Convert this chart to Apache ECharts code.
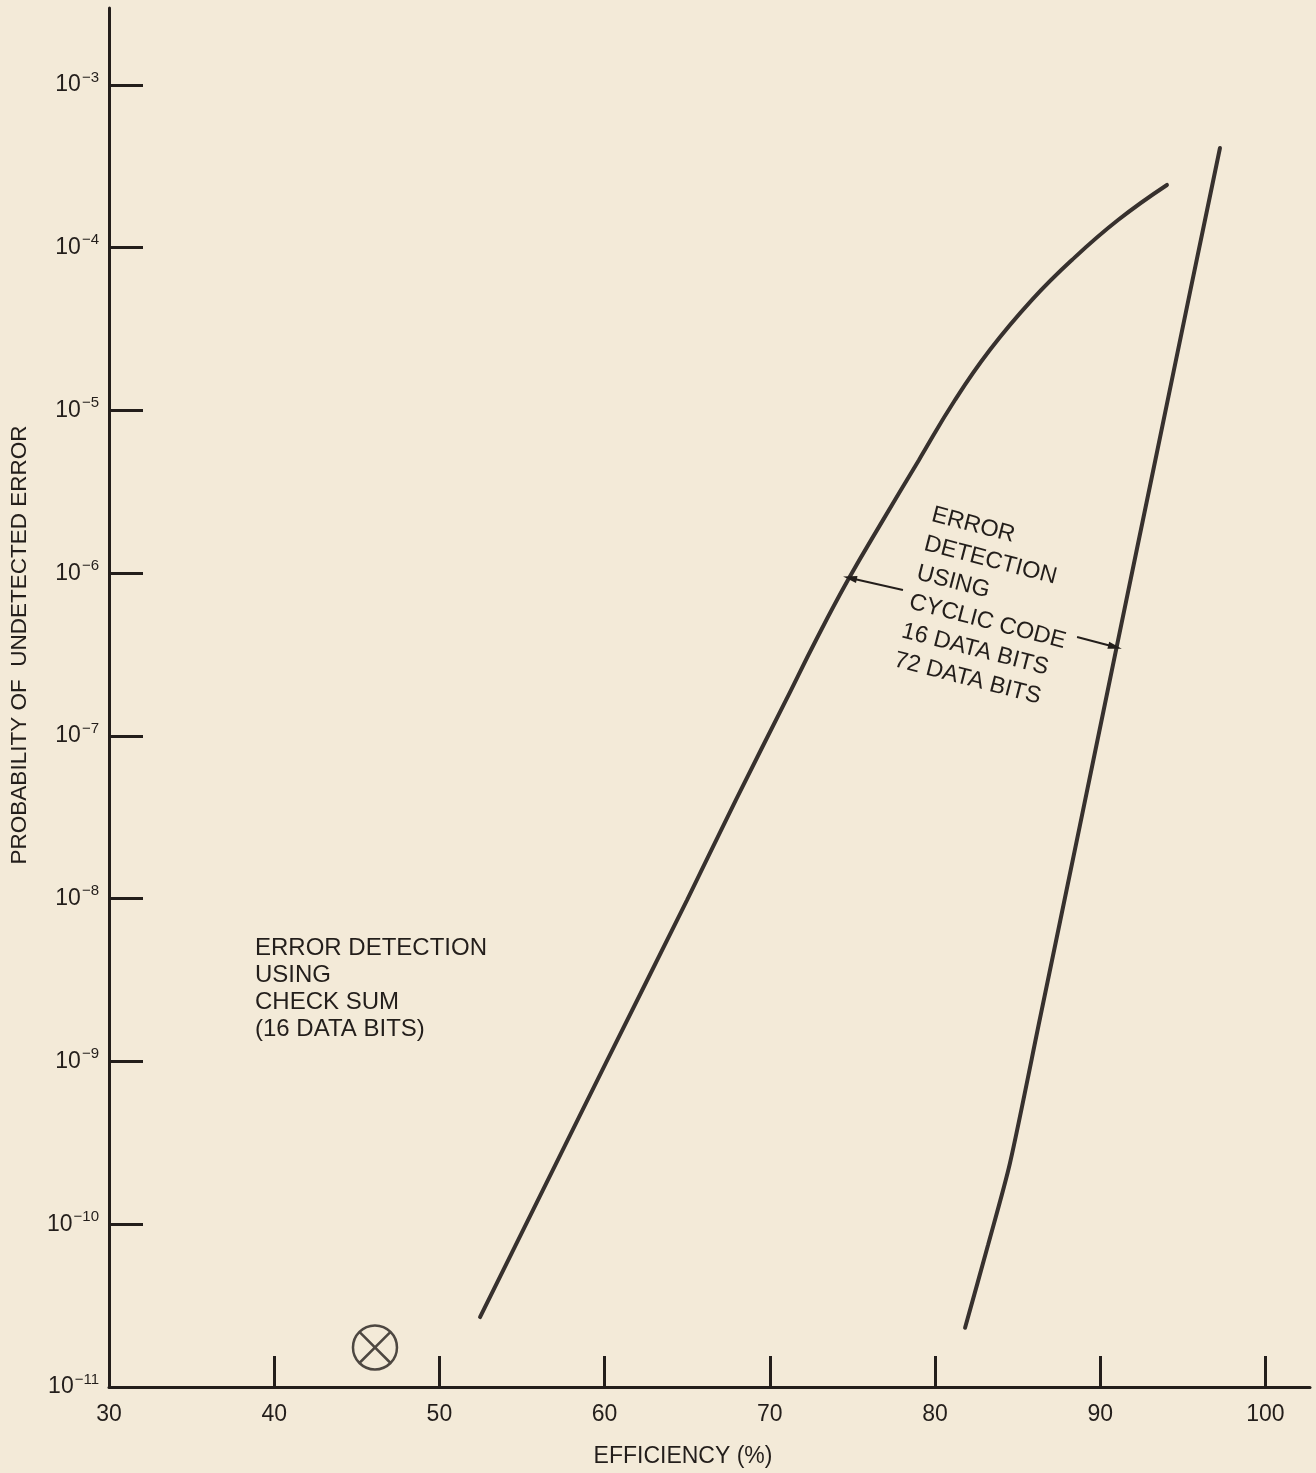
<!DOCTYPE html>
<html>
<head>
<meta charset="utf-8">
<title>Probability of undetected error vs efficiency</title>
<script src="https://cdn.jsdelivr.net/npm/echarts@6/dist/echarts.min.js"></script>
<style>
  html, body { margin: 0; padding: 0; background: #f3ead8; }
  #chart { width: 1316px; height: 1473px; }
</style>
</head>
<body>
<div id="chart"></div>
<script>
// Axis tick values
const efficiencyTicks = [30, 40, 50, 60, 70, 80, 90, 100];
const probabilityExponents = [-11, -10, -9, -8, -7, -6, -5, -4, -3];

// Cyclic code, 16 data bits
const cyclic16Efficiency  = [52.46, 60.08, 64.99, 67.95, 70.98, 72.80, 74.73, 76.85, 79.03, 81.21, 83.33, 85.87, 88.29, 91.08, 94.04];
const cyclic16Probability = [2.69e-11, 9.8e-10, 9.82e-9, 4.05e-8, 1.66e-7, 3.89e-7, 9.08e-7, 2.12e-6, 4.97e-6, 1.16e-5, 2.36e-5, 4.78e-5, 8.41e-5, 1.48e-4, 2.43e-4];

// Cyclic code, 72 data bits
const cyclic72Efficiency  = [81.82, 83.21, 84.54, 86.36, 88.78, 91.02, 93.44, 95.44, 97.25];
const cyclic72Probability = [2.31e-11, 7.45e-11, 2.38e-10, 1.85e-9, 2.84e-8, 3.62e-7, 5.56e-6, 5.35e-5, 4.1e-4];

// Check sum, 16 data bits
const checkSumEfficiency  = [46.1];
const checkSumProbability = [1.75e-11];

const INK = '#231e1b';
const CURVE = '#37312e';
const FONT = "'Liberation Sans', Arial, Helvetica, sans-serif";

const pairs = (xs, ys) => xs.map((x, i) => [x, ys[i]]);
const pow10 = e => Number('1e' + e);

const chart = echarts.init(document.getElementById('chart'), null, { renderer: 'canvas' });

const arrowHead = 'path://M0,0L5,14L-5,14Z';

const option = {
  backgroundColor: '#f3ead8',
  animation: false,
  grid: { left: 109, right: 6, top: 8, bottom: 86, containLabel: false, outerBoundsMode: 'none' },
  xAxis: {
    type: 'value',
    min: 30,
    max: 102.7,
    axisLine: { show: true, onZero: false, lineStyle: { color: INK, width: 3 } },
    axisTick: {
      show: true, inside: true, length: 31,
      lineStyle: { color: INK, width: 3 },
      customValues: efficiencyTicks.slice(1)
    },
    axisLabel: {
      show: true, margin: 16, color: INK, fontSize: 23, fontFamily: FONT,
      customValues: efficiencyTicks
    },
    splitLine: { show: false }
  },
  yAxis: {
    type: 'log',
    logBase: 10,
    min: 1e-11,
    max: Math.pow(10, -2.527),
    axisLine: { show: true, onZero: false, lineStyle: { color: INK, width: 3 } },
    axisTick: {
      show: true, inside: true, length: 34,
      lineStyle: { color: INK, width: 3 },
      customValues: probabilityExponents.slice(1).map(pow10)
    },
    axisLabel: {
      show: true, margin: 10,
      customValues: probabilityExponents.map(pow10),
      formatter: v => '{b|10}{s|\u2212' + Math.abs(Math.round(Math.log10(v))) + '}',
      rich: {
        b: { fontSize: 23, fontFamily: FONT, color: INK, lineHeight: 30 },
        s: { fontSize: 15, fontFamily: FONT, color: INK, verticalAlign: 'top', lineHeight: 18, padding: [0, 0, 0, 1] }
      }
    },
    splitLine: { show: false },
    minorTick: { show: false }
  },
  series: [
    {
      name: 'CYCLIC CODE 16 DATA BITS',
      type: 'line',
      data: pairs(cyclic16Efficiency, cyclic16Probability),
      smooth: 0.45,
      showSymbol: false,
      symbol: 'none',
      lineStyle: { color: CURVE, width: 4, cap: 'round' },
      markLine: {
        silent: true,
        symbol: ['none', arrowHead],
        symbolSize: [7, 14],
        label: { show: false },
        lineStyle: { color: INK, width: 2, type: 'solid' },
        data: [[{ coord: [78.06, 7.9e-7] }, { coord: [74.85, 9.35e-7] }]]
      }
    },
    {
      name: 'CYCLIC CODE 72 DATA BITS',
      type: 'line',
      data: pairs(cyclic72Efficiency, cyclic72Probability),
      smooth: 0.25,
      showSymbol: false,
      symbol: 'none',
      lineStyle: { color: CURVE, width: 4, cap: 'round' },
      markLine: {
        silent: true,
        symbol: ['none', arrowHead],
        symbolSize: [7, 14],
        label: { show: false },
        lineStyle: { color: INK, width: 2, type: 'solid' },
        data: [[{ coord: [88.6, 4.06e-7] }, { coord: [90.9, 3.52e-7] }]]
      }
    },
    {
      name: 'CHECK SUM (16 DATA BITS)',
      type: 'scatter',
      data: pairs(checkSumEfficiency, checkSumProbability),
      symbol: 'path://M0,-20A20,20,0,1,1,0,20A20,20,0,1,1,0,-20ZM-14.14,-14.14L14.14,14.14M14.14,-14.14L-14.14,14.14',
      symbolSize: 44,
      itemStyle: { color: 'rgba(0,0,0,0)', borderColor: INK, borderWidth: 2.5 }
    }
  ],
  graphic: [
    {
      type: 'text',
      x: 20, y: 645,
      rotation: Math.PI / 2,
      style: {
        text: 'PROBABILITY OF  UNDETECTED ERROR',
        fontSize: 22.5, fontFamily: FONT, fill: INK,
        align: 'center', verticalAlign: 'middle'
      }
    },
    {
      type: 'text',
      x: 683, y: 1457,
      style: {
        text: 'EFFICIENCY (%)',
        fontSize: 23, fontFamily: FONT, fill: INK,
        align: 'center', verticalAlign: 'middle'
      }
    },
    {
      type: 'text',
      x: 255, y: 935,
      style: {
        text: 'ERROR DETECTION\nUSING\nCHECK SUM\n(16 DATA BITS)',
        fontSize: 24, lineHeight: 27, fontFamily: FONT, fill: INK,
        align: 'left', verticalAlign: 'top'
      }
    },
    {
      type: 'text',
      x: 936, y: 500,
      rotation: -14.5 * Math.PI / 180,
      style: {
        text: 'ERROR\nDETECTION\nUSING\nCYCLIC CODE\n16 DATA BITS\n72 DATA BITS',
        fontSize: 23.5, lineHeight: 30, fontFamily: FONT, fill: INK,
        align: 'left', verticalAlign: 'top'
      }
    }
  ]
};

chart.setOption(option);
</script>
</body>
</html>
